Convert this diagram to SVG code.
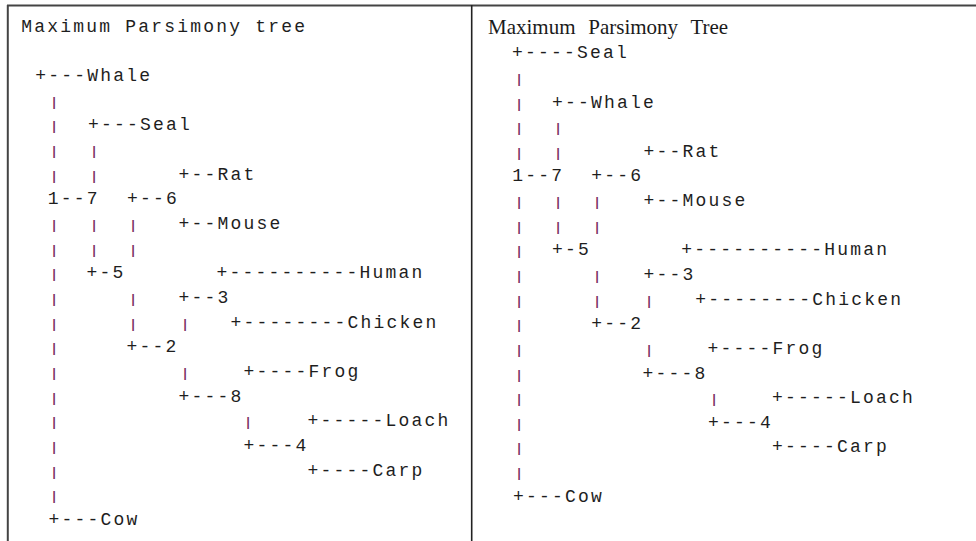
<svg xmlns="http://www.w3.org/2000/svg" width="976" height="541" viewBox="0 0 976 541">
  <style>
    .t { font-family: "Liberation Mono", "Courier New", monospace; font-size: 18px; letter-spacing: 2.2px; fill: #1e1e1e; }
    .p { font-family: "Liberation Mono", "Courier New", monospace; font-size: 12px; font-weight: bold; fill: #7b2d62; text-anchor: middle; }
    .ttl { font-family: "Liberation Serif", "Times New Roman", serif; font-size: 21px; word-spacing: 7.5px; fill: #1a1a1a; }
    .frame { stroke: #444; stroke-width: 2; fill: none; }
  </style>
  <rect width="976" height="541" fill="#fff"/>

  <!-- frame: top rule, left edge and panel divider -->
  <g id="frame">
    <line class="frame" x1="7" y1="5.4" x2="976" y2="5.4"/>
    <line class="frame" x1="7.8" y1="5" x2="7.8" y2="541"/>
    <line x1="471.7" y1="5" x2="471.7" y2="541" stroke="#222" stroke-width="1.6"/>
  </g>

  <!-- left panel -->
  <g id="left-tree">
    <text id="left-title" class="t" x="21.2" y="32">Maximum Parsimony tree</text>
    <g id="left-nodes">
      <g id="l-whale"><text class="t" x="35.3" y="81">+---Whale</text></g>
      <g id="l-seal"><text class="t" x="87.9" y="130.33">+---Seal</text></g>
      <g id="l-rat"><text class="t" x="178.6" y="179.67">+--Rat</text></g>
      <g id="l-n1-7"><text class="t" x="47.8" y="204.33">1--7</text></g>
      <g id="l-n6"><text class="t" x="126.9" y="204.33">+--6</text></g>
      <g id="l-mouse"><text class="t" x="178.6" y="229">+--Mouse</text></g>
      <g id="l-n5"><text class="t" x="86.6" y="278.33">+-5</text></g>
      <g id="l-human"><text class="t" x="216.6" y="278.33">+----------Human</text></g>
      <g id="l-n3"><text class="t" x="178.6" y="303">+--3</text></g>
      <g id="l-chicken"><text class="t" x="230.6" y="327.67">+--------Chicken</text></g>
      <g id="l-n2"><text class="t" x="126.6" y="352.33">+--2</text></g>
      <g id="l-frog"><text class="t" x="243.6" y="377">+----Frog</text></g>
      <g id="l-n8"><text class="t" x="178.6" y="401.67">+---8</text></g>
      <g id="l-loach"><text class="t" x="307.6" y="426.33">+-----Loach</text></g>
      <g id="l-n4"><text class="t" x="243.6" y="451">+---4</text></g>
      <g id="l-carp"><text class="t" x="307.6" y="475.67">+----Carp</text></g>
      <g id="l-cow"><text class="t" x="48.6" y="525">+---Cow</text></g>
    </g>
    <g id="left-connectors">
      <text class="p" x="54" y="105.67">|</text>
      <text class="p" x="54" y="130.33">|</text>
      <text class="p" x="54" y="155">|</text><text class="p" x="94" y="155">|</text>
      <text class="p" x="54" y="179.67">|</text><text class="p" x="94" y="179.67">|</text>
      <text class="p" x="54" y="229">|</text><text class="p" x="94" y="229">|</text><text class="p" x="133" y="229">|</text>
      <text class="p" x="54" y="253.67">|</text><text class="p" x="94" y="253.67">|</text><text class="p" x="133" y="253.67">|</text>
      <text class="p" x="54" y="278.33">|</text>
      <text class="p" x="54" y="303">|</text><text class="p" x="133" y="303">|</text>
      <text class="p" x="54" y="327.67">|</text><text class="p" x="133" y="327.67">|</text><text class="p" x="185" y="327.67">|</text>
      <text class="p" x="54" y="352.33">|</text>
      <text class="p" x="54" y="377">|</text><text class="p" x="185" y="377">|</text>
      <text class="p" x="54" y="401.67">|</text>
      <text class="p" x="54" y="426.33">|</text><text class="p" x="248" y="426.33">|</text>
      <text class="p" x="54" y="451">|</text>
      <text class="p" x="54" y="475.67">|</text>
      <text class="p" x="54" y="500.33">|</text>
    </g>
  </g>

  <!-- right panel -->
  <g id="right-tree">
    <text id="right-title" class="ttl" x="488" y="34.3">Maximum Parsimony Tree</text>
    <g id="right-nodes">
      <g id="r-seal"><text class="t" x="511.9" y="58.3">+----Seal</text></g>
      <g id="r-whale"><text class="t" x="551.9" y="107.57">+--Whale</text></g>
      <g id="r-rat"><text class="t" x="643.6" y="156.83">+--Rat</text></g>
      <g id="r-n1-7"><text class="t" x="512.3" y="181.47">1--7</text></g>
      <g id="r-n6"><text class="t" x="591.3" y="181.47">+--6</text></g>
      <g id="r-mouse"><text class="t" x="643.6" y="206.1">+--Mouse</text></g>
      <g id="r-n5"><text class="t" x="551.9" y="255.37">+-5</text></g>
      <g id="r-human"><text class="t" x="681.3" y="255.37">+----------Human</text></g>
      <g id="r-n3"><text class="t" x="643.6" y="280">+--3</text></g>
      <g id="r-chicken"><text class="t" x="695.3" y="304.63">+--------Chicken</text></g>
      <g id="r-n2"><text class="t" x="591.3" y="329.27">+--2</text></g>
      <g id="r-frog"><text class="t" x="707.6" y="353.9">+----Frog</text></g>
      <g id="r-n8"><text class="t" x="642.6" y="378.53">+---8</text></g>
      <g id="r-loach"><text class="t" x="771.9" y="403.17">+-----Loach</text></g>
      <g id="r-n4"><text class="t" x="707.9" y="427.8">+---4</text></g>
      <g id="r-carp"><text class="t" x="771.9" y="452.43">+----Carp</text></g>
      <g id="r-cow"><text class="t" x="512.9" y="501.7">+---Cow</text></g>
    </g>
    <g id="right-connectors">
      <text class="p" x="519" y="82.93">|</text>
      <text class="p" x="519" y="107.57">|</text>
      <text class="p" x="519" y="132.2">|</text><text class="p" x="558" y="132.2">|</text>
      <text class="p" x="519" y="156.83">|</text><text class="p" x="558" y="156.83">|</text>
      <text class="p" x="519" y="206.1">|</text><text class="p" x="558" y="206.1">|</text><text class="p" x="597" y="206.1">|</text>
      <text class="p" x="519" y="230.73">|</text><text class="p" x="558" y="230.73">|</text><text class="p" x="597" y="230.73">|</text>
      <text class="p" x="519" y="255.37">|</text>
      <text class="p" x="519" y="280">|</text><text class="p" x="597" y="280">|</text>
      <text class="p" x="519" y="304.63">|</text><text class="p" x="597" y="304.63">|</text><text class="p" x="649" y="304.63">|</text>
      <text class="p" x="519" y="329.27">|</text>
      <text class="p" x="519" y="353.9">|</text><text class="p" x="649" y="353.9">|</text>
      <text class="p" x="519" y="378.53">|</text>
      <text class="p" x="519" y="403.17">|</text><text class="p" x="714" y="403.17">|</text>
      <text class="p" x="519" y="427.8">|</text>
      <text class="p" x="519" y="452.43">|</text>
      <text class="p" x="519" y="477.07">|</text>
    </g>
  </g>
</svg>
